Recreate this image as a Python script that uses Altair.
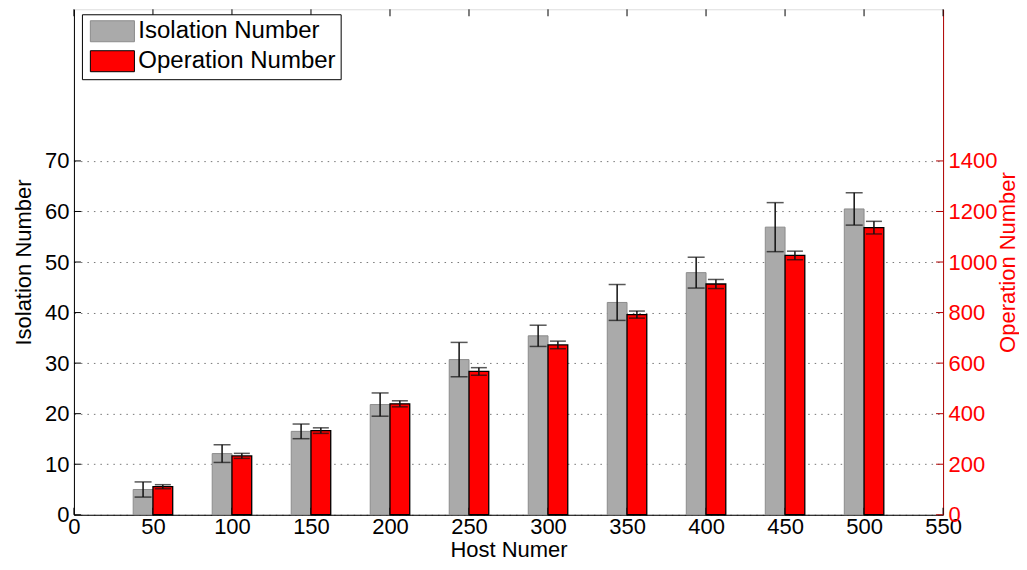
import altair as alt
import pandas as pd

hosts = [50, 100, 150, 200, 250, 300, 350, 400, 450, 500]
iso = [5.0, 12.1, 16.5, 21.8, 30.7, 35.4, 42.0, 47.9, 56.9, 60.5]
iso_err = [1.5, 1.75, 1.45, 2.3, 3.4, 2.1, 3.55, 3.05, 4.85, 3.2]
ops = [111, 233, 333, 439, 567, 672, 792, 913, 1026, 1136]
ops_err = [8, 10, 11, 12, 15, 15, 14, 18, 17, 25]
left_ticks = [0, 10, 20, 30, 40, 50, 60, 70]
right_ticks = [0, 200, 400, 600, 800, 1000, 1200, 1400]
x_ticks = [0, 50, 100, 150, 200, 250, 300, 350, 400, 450, 500, 550]
series = ["Isolation Number", "Operation Number"]

W, H = 870, 506
FONT = "Liberation Sans"
FS = 22
TFS = 22
BARW = 12.5

df = pd.DataFrame({"host": hosts, "iso": iso, "iso_err": iso_err, "ops": ops, "ops_err": ops_err})

xscale = alt.Scale(domain=[0, 550], nice=False, zero=False)
yl = alt.Scale(domain=[0, 100], nice=False)
yr = alt.Scale(domain=[0, 2000], nice=False)

fill_scale = alt.Scale(domain=series, range=["#aaaaaa", "#ff0000"])
stroke_scale = alt.Scale(domain=series, range=["#8c8c8c", "#000000"])
leg = dict(
    orient="none", legendX=8, legendY=5, title=None,
    labelFontSize=24, labelFont=FONT, labelColor="black", labelLimit=400,
    symbolType="M-2.1,-1L2.1,-1L2.1,1L-2.1,1Z", symbolSize=441,
    symbolStrokeWidth=1, strokeColor="black", fillColor="white",
    padding=5, rowPadding=4, symbolOffset=13.5, labelOffset=14,
)

x_axis = alt.Axis(values=x_ticks, title="Host Numer", labelFontSize=FS, titleFontSize=TFS,
                  tickSize=0, labelPadding=2, titlePadding=2, grid=False,
                  titleFontWeight="normal", domainColor="black", labelColor="black",
                  titleColor="black", labelFlush=False)
yl_axis = alt.Axis(
    values=left_ticks, orient="left", title="Isolation Number", labelFontSize=FS,
    titleFontSize=TFS, tickSize=0, labelPadding=5, titlePadding=9, grid=True,
    gridDash=[1.5, 5], gridColor="#777777", gridWidth=1, domainColor="black",
    labelColor="black", titleColor="black", titleFontWeight="normal")
yr_axis = alt.Axis(
    values=right_ticks, orient="right", title="Operation Number", labelFontSize=FS,
    titleFontSize=TFS, tickSize=0, labelPadding=5, titlePadding=18, grid=False, format="d",
    domainColor="#b00000", labelColor="#ff0000", titleColor="#ff0000",
    titleFontWeight="normal", titleAngle=270, titleBaseline="alphabetic")


def X(field):
    return alt.X(field, scale=xscale, axis=x_axis)


def YL(field):
    return alt.Y(field, scale=yl, axis=yl_axis)


def YR(field):
    return alt.Y(field, scale=yr, axis=yr_axis)


base = alt.Chart(df)

gray = base.transform_calculate(x1=f"datum.host - {BARW}", series='"Isolation Number"').mark_bar(
    strokeWidth=1).encode(
    x=X("x1:Q"), x2="host:Q",
    y=YL("iso:Q"), y2=alt.datum(0),
    fill=alt.Fill("series:N", scale=fill_scale, legend=alt.Legend(**leg)),
    stroke=alt.Stroke("series:N", scale=stroke_scale, legend=alt.Legend(**leg)),
)

gray_err = base.transform_calculate(
    xc=f"datum.host - {BARW / 2}", lo="datum.iso - datum.iso_err", hi="datum.iso + datum.iso_err")
gray_rule = gray_err.mark_rule(color="#111111", strokeWidth=1.5).encode(
    x=X("xc:Q"), y=YL("lo:Q"), y2="hi:Q")
gray_lo = gray_err.mark_tick(orient="horizontal", size=17, thickness=1.5, color="#111111").encode(
    x=X("xc:Q"), y=YL("lo:Q"))
gray_hi = gray_err.mark_tick(orient="horizontal", size=17, thickness=1.5, color="#111111").encode(
    x=X("xc:Q"), y=YL("hi:Q"))

ltick_df = pd.DataFrame({"v": left_ticks})
left_tk = alt.Chart(ltick_df).mark_rule(color="black").encode(
    y=YL("v:Q"), x=alt.value(0), x2=alt.value(7))

xtick_df = pd.DataFrame({"v": x_ticks})
top_tk = alt.Chart(xtick_df).mark_rule(color="black").encode(
    x=X("v:Q"), y=alt.value(0), y2=alt.value(7))
bot_tk = alt.Chart(xtick_df).mark_rule(color="black").encode(
    x=X("v:Q"), y=alt.value(H), y2=alt.value(H - 7))

left = alt.layer(gray, gray_rule, gray_lo, gray_hi, left_tk, top_tk, bot_tk)

red = base.transform_calculate(x2v=f"datum.host + {BARW}", series='"Operation Number"').mark_bar(
    strokeWidth=1.3).encode(
    x=X("host:Q"), x2="x2v:Q",
    y=YR("ops:Q"), y2=alt.datum(0),
    fill=alt.Fill("series:N", scale=fill_scale, legend=alt.Legend(**leg)),
    stroke=alt.Stroke("series:N", scale=stroke_scale, legend=alt.Legend(**leg)),
)

red_err = base.transform_calculate(
    xc=f"datum.host + {BARW / 2}", lo="datum.ops - datum.ops_err", hi="datum.ops + datum.ops_err")
red_rule = red_err.mark_rule(color="#111111", strokeWidth=1.5).encode(
    x=X("xc:Q"), y=YR("lo:Q"), y2="hi:Q")
red_lo = red_err.mark_tick(orient="horizontal", size=16, thickness=1.5, color="#111111").encode(
    x=X("xc:Q"), y=YR("lo:Q"))
red_hi = red_err.mark_tick(orient="horizontal", size=16, thickness=1.5, color="#111111").encode(
    x=X("xc:Q"), y=YR("hi:Q"))

rtick_df = pd.DataFrame({"v": right_ticks})
right_tk = alt.Chart(rtick_df).mark_rule(color="#b00000").encode(
    y=YR("v:Q"), x=alt.value(W), x2=alt.value(W - 7))

right = alt.layer(red, red_rule, red_lo, red_hi, right_tk)

chart = alt.layer(left, right).resolve_scale(y="independent").properties(
    width=W, height=H, padding={"left": 4, "top": 0, "right": 0, "bottom": 0}
).configure_view(stroke="black", strokeWidth=1).configure(
    font=FONT
).configure_axis(labelFont=FONT, titleFont=FONT)

chart.save("out.html", embed_options={"renderer": "svg", "actions": False})
